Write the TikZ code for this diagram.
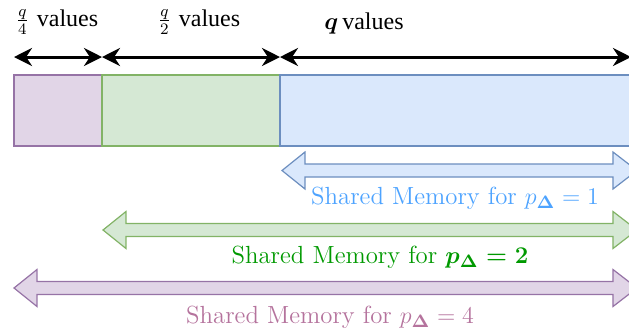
\documentclass[tikz,border=0pt]{standalone}
\usepackage{amsmath}
\usepackage{fontspec}
\newfontfamily\valfont{Liberation Serif}
\usetikzlibrary{arrows.meta}

\definecolor{purfill}{HTML}{E1D5E7}
\definecolor{purline}{HTML}{9673A6}
\definecolor{purtext}{HTML}{B5739D}
\definecolor{grnfill}{HTML}{D5E8D4}
\definecolor{grnline}{HTML}{82B366}
\definecolor{grntext}{HTML}{009900}
\definecolor{blufill}{HTML}{DAE8FC}
\definecolor{bluline}{HTML}{6C8EBF}
\definecolor{blutext}{HTML}{4DA3FF}

\begin{document}
\begin{tikzpicture}[
        x=0.5pt, y=-0.5pt,
        font=\fontsize{12}{14}\selectfont,
        memblock/.style={draw=#1line, fill=#1fill, line width=0.6pt, minimum height=35.5pt, anchor=north west, inner sep=0pt, outer sep=0pt},
        shmem/.style={draw=#1line, fill=#1fill, line width=0.6pt},
        shlabel/.style={text=#1text, inner sep=0pt, font=\fontsize{12.4}{14}\selectfont},
        dimarrow/.style={{Stealth[length=9pt,width=9pt]}-{Stealth[length=9pt,width=9pt]}, line width=1.5pt},
        sizelabel/.style={inner sep=0pt},
    ]
    \useasboundingbox (0,0) rectangle (629,329);

    % Blocks of memory
    \node[memblock=pur, minimum width=44pt] (quarter) at (14,75) {};
    \node[memblock=grn, minimum width=89pt] (half) at (102,75) {};
    \node[memblock=blu, minimum width=200pt] (full) at (280,75) {};

    % Size arrows above the blocks
    \coordinate (rightend) at (631,57);
    \draw[dimarrow] ([yshift=9pt]quarter.north west) -- ([yshift=9pt]quarter.north east);
    \draw[dimarrow] ([yshift=9pt]half.north west) -- ([yshift=9pt]half.north east);
    \draw[dimarrow] ([yshift=9pt]full.north west) -- (rightend);

    \node[sizelabel] (lblquarter) at (57,22) {$\frac{q}{4}$ \valfont values};
    \node[sizelabel] (lblhalf) at (199,22) {$\frac{q}{2}$ \valfont values};
    \node[sizelabel] (lblfull) at (364,23) {$\boldsymbol{q}$\,\valfont values};

    % Shared memory ranges
    \foreach \tipx/\midy/\clr in {282/170.5/blu, 103/230/grn, 14/288/pur} {
        \draw[shmem=\clr]
            (\tipx,\midy) -- ({\tipx+23},{\midy-18.5}) -- ({\tipx+23},{\midy-6.5}) -- (613,{\midy-6.5})
            -- (613,{\midy-18.5}) -- (637,\midy) -- (613,{\midy+18.5}) -- (613,{\midy+6.5})
            -- ({\tipx+23},{\midy+6.5}) -- ({\tipx+23},{\midy+18.5}) -- cycle;
    }

    \node[shlabel=blu] (shareone) at (455,198) {Shared Memory for $p_{\boldsymbol{\Delta}} = 1$};
    \node[shlabel=grn] (sharetwo) at (380,257) {Shared Memory for $\boldsymbol{p_\Delta = 2}$};
    \node[shlabel=pur] (sharefour) at (330,317) {Shared Memory for $p_{\boldsymbol{\Delta}} = 4$};

\end{tikzpicture}
\end{document}
